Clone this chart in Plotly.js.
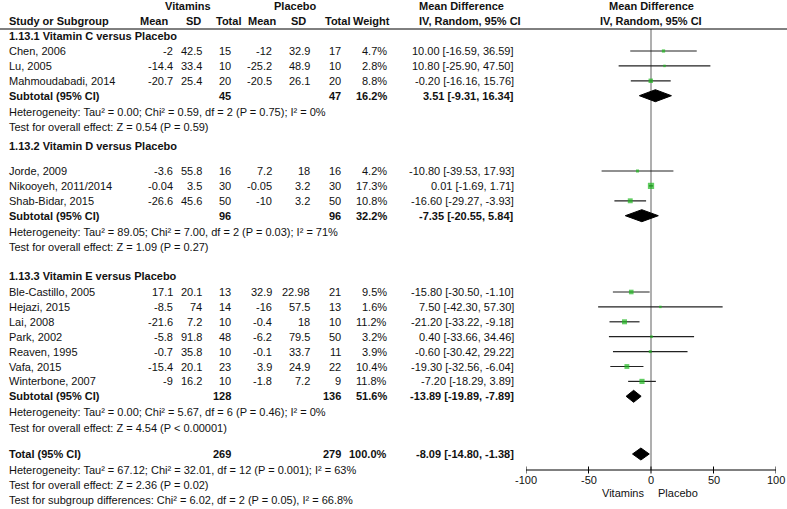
<!DOCTYPE html>
<html><head><meta charset="utf-8">
<script src="https://cdn.plot.ly/plotly-3.0.1.min.js"></script>
<style>html,body{margin:0;padding:0;background:#fff}#chart{width:787px;height:509px}</style>
</head><body><div id="chart"></div>
<script>
// ---------------- data ----------------
const groupTitles = ["1.13.1 Vitamin C versus Placebo", "1.13.2 Vitamin D versus Placebo", "1.13.3 Vitamin E versus Placebo"];
const studyGroup = [0, 0, 0, 1, 1, 1, 2, 2, 2, 2, 2, 2, 2];
const studies = ["Chen, 2006", "Lu, 2005", "Mahmoudabadi, 2014",
  "Jorde, 2009", "Nikooyeh, 2011/2014", "Shab-Bidar, 2015",
  "Ble-Castillo, 2005", "Hejazi, 2015", "Lai, 2008", "Park, 2002", "Reaven, 1995", "Vafa, 2015", "Winterbone, 2007"];
const vitMean = [-2, -14.4, -20.7, -3.6, -0.04, -26.6, 17.1, -8.5, -21.6, -5.8, -0.7, -15.4, -9];
const vitSD = [42.5, 33.4, 25.4, 55.8, 3.5, 45.6, 20.1, 74, 7.2, 91.8, 35.8, 20.1, 16.2];
const vitN = [15, 10, 20, 16, 30, 50, 13, 14, 10, 48, 10, 23, 10];
const plMean = [-12, -25.2, -20.5, 7.2, -0.05, -10, 32.9, -16, -0.4, -6.2, -0.1, 3.9, -1.8];
const plSD = [32.9, 48.9, 26.1, 18, 3.2, 3.2, 22.98, 57.5, 18, 79.5, 33.7, 24.9, 7.2];
const plN = [17, 10, 20, 16, 30, 50, 21, 13, 10, 50, 11, 22, 9];
const weight = [4.7, 2.8, 8.8, 4.2, 17.3, 10.8, 9.5, 1.6, 11.2, 3.2, 3.9, 10.4, 11.8];
const md = [10.00, 10.80, -0.20, -10.80, 0.01, -16.60, -15.80, 7.50, -21.20, 0.40, -0.60, -19.30, -7.20];
const ciLo = [-16.59, -25.90, -16.16, -39.53, -1.69, -29.27, -30.50, -42.30, -33.22, -33.66, -30.42, -32.56, -18.29];
const ciHi = [36.59, 47.50, 15.76, 17.93, 1.71, -3.93, -1.10, 57.30, -9.18, 34.46, 29.22, -6.04, 3.89];

const subVitN = [45, 96, 128];
const subPlN = [47, 96, 136];
const subWeight = [16.2, 32.2, 51.6];
const subMd = [3.51, -7.35, -13.89];
const subLo = [-9.31, -20.55, -19.89];
const subHi = [16.34, 5.84, -7.89];
const subHet = [
  "Heterogeneity: Tau\u00b2 = 0.00; Chi\u00b2 = 0.59, df = 2 (P = 0.75); I\u00b2 = 0%",
  "Heterogeneity: Tau\u00b2 = 89.05; Chi\u00b2 = 7.00, df = 2 (P = 0.03); I\u00b2 = 71%",
  "Heterogeneity: Tau\u00b2 = 0.00; Chi\u00b2 = 5.67, df = 6 (P = 0.46); I\u00b2 = 0%"];
const subTest = [
  "Test for overall effect: Z = 0.54 (P = 0.59)",
  "Test for overall effect: Z = 1.09 (P = 0.27)",
  "Test for overall effect: Z = 4.54 (P < 0.00001)"];

const totalVitN = 269, totalPlN = 279, totalWeight = 100.0;
const totalMd = -8.09, totalLo = -14.80, totalHi = -1.38;
const totalNotes = [
  "Heterogeneity: Tau\u00b2 = 67.12; Chi\u00b2 = 32.01, df = 12 (P = 0.001); I\u00b2 = 63%",
  "Test for overall effect: Z = 2.36 (P = 0.02)",
  "Test for subgroup differences: Chi\u00b2 = 6.02, df = 2 (P = 0.05), I\u00b2 = 66.8%"];

const tickVals = [-100, -50, 0, 50, 100];
const tickLabels = ["-100", "-50", "0", "50", "100"];
const favoursLeft = "Vitamins", favoursRight = "Placebo";

// ---------------- layout constants ----------------
const W = 787, H = 509;
const FONT = "Liberation Sans, Arial, sans-serif";
const FS = 11;
const TXT = "#111";
const titleY = [36, 146, 276];
const firstGap = [15, 25, 16];
const STEP = 14.9;
const col = {name: 7, vitMean: 175, vitSD: 204, vitN: 233, plMean: 274, plSD: 312, plN: 343, weight: 389, md: 516};
const headerLineY = 29, axisY = 470;

// compute row positions
const studyY = [], subY = [], hetY = [], testY = [];
for (let g = 0; g < 3; g++) {
  let y = titleY[g] + firstGap[g];
  studies.forEach((s, i) => { if (studyGroup[i] === g) { studyY[i] = y; y += STEP; } });
  subY[g] = y; hetY[g] = y + 16; testY[g] = y + 31.5;
}
const totalY = 454;
const totalNoteY = [470, 485, 500];

// ---------------- annotations ----------------
const ann = [];
function A(text, xpx, y, anchor, bold) {
  ann.push({text: bold ? "<b>" + text + "</b>" : text, xref: "paper", yref: "y", x: xpx / W, y: y,
    xanchor: anchor, yanchor: "middle", showarrow: false, font: {family: FONT, size: FS, color: TXT}});
}
const fmtMD = (m, l, h) => m.toFixed(2) + " [" + l.toFixed(2) + ", " + h.toFixed(2) + "]";

// header
A("Vitamins", 188, 6, "center", true);
A("Placebo", 295, 6, "center", true);
A("Study or Subgroup", col.name, 21, "left", true);
A("Mean", 170, 21, "right", true);
A("SD", 203, 21, "right", true);
A("Total", 243, 21, "right", true);
A("Mean", 278, 21, "right", true);
A("SD", 308, 21, "right", true);
A("Total", 352, 21, "right", true);
A("Weight", 392, 21, "right", true);
A("Mean Difference", 417, 6, "left", true);
A("IV, Random, 95% CI", 417, 21, "left", true);

for (let g = 0; g < 3; g++) {
  A(groupTitles[g], col.name, titleY[g], "left", true);
  A("Subtotal (95% CI)", col.name, subY[g], "left", true);
  A(String(subVitN[g]), col.vitN, subY[g], "right", true);
  A(String(subPlN[g]), col.plN, subY[g], "right", true);
  A(subWeight[g].toFixed(1) + "%", col.weight, subY[g], "right", true);
  A(fmtMD(subMd[g], subLo[g], subHi[g]), col.md, subY[g], "right", true);
  A(subHet[g], col.name, hetY[g], "left", false);
  A(subTest[g], col.name, testY[g], "left", false);
}
studies.forEach((s, i) => {
  const y = studyY[i];
  A(s, col.name, y, "left", false);
  A(String(vitMean[i]), col.vitMean, y, "right", false);
  A(String(vitSD[i]), col.vitSD, y, "right", false);
  A(String(vitN[i]), col.vitN, y, "right", false);
  A(String(plMean[i]), col.plMean, y, "right", false);
  A(String(plSD[i]), col.plSD, y, "right", false);
  A(String(plN[i]), col.plN, y, "right", false);
  A(weight[i].toFixed(1) + "%", col.weight, y, "right", false);
  A(fmtMD(md[i], ciLo[i], ciHi[i]), col.md, y, "right", false);
});
A("Total (95% CI)", col.name, totalY, "left", true);
A(String(totalVitN), col.vitN, totalY, "right", true);
A(String(totalPlN), col.plN, totalY, "right", true);
A(totalWeight.toFixed(1) + "%", col.weight, totalY, "right", true);
A(fmtMD(totalMd, totalLo, totalHi), col.md, totalY, "right", true);
totalNotes.forEach((t, k) => A(t, col.name, totalNoteY[k], "left", false));

// forest header & favours labels (data-axis x)
function AX(text, x, y, anchor, bold) {
  ann.push({text: bold ? "<b>" + text + "</b>" : text, xref: "x", yref: "y", x: x, y: y,
    xanchor: anchor, yanchor: "middle", showarrow: false, font: {family: FONT, size: FS, color: TXT}});
}
AX("Mean Difference", 0, 6, "center", true);
AX("IV, Random, 95% CI", 0, 21, "center", true);
AX(favoursLeft, -4, 493, "right", false);
AX(favoursRight, 4, 493, "left", false);
tickVals.forEach((t, k) => AX(tickLabels[k], t, 480, "center", false));

// ---------------- traces ----------------
const ciX = [], ciY = [];
studies.forEach((s, i) => { ciX.push(ciLo[i], ciHi[i], null); ciY.push(studyY[i], studyY[i], null); });
const traces = [];
traces.push({type: "scatter", mode: "lines", x: ciX, y: ciY, line: {color: "#222", width: 1.2}, hoverinfo: "skip"});
traces.push({type: "scatter", mode: "markers", x: md, y: studyY,
  marker: {symbol: "square", color: "#1fb81f", size: weight.map(w => Math.max(2.5, 1.5 * Math.sqrt(w))), line: {width: 0}},
  hoverinfo: "skip"});
const DH = 6;
function diamond(m, l, h, y) {
  traces.push({type: "scatter", mode: "lines", x: [l, m, h, m, l], y: [y, y - DH, y, y + DH, y],
    fill: "toself", fillcolor: "#000", line: {color: "#000", width: 1}, hoverinfo: "skip"});
}
for (let g = 0; g < 3; g++) diamond(subMd[g], subLo[g], subHi[g], subY[g]);
diamond(totalMd, totalLo, totalHi, totalY);
// tick marks crossing the axis line
const tkX = [], tkY = [];
tickVals.forEach(t => { tkX.push(t, t, null); tkY.push(axisY - 3.5, axisY + 3.5, null); });
traces.push({type: "scatter", mode: "lines", x: tkX, y: tkY, line: {color: "#000", width: 1}, hoverinfo: "skip"});
// axis line
traces.push({type: "scatter", mode: "lines", x: [tickVals[0], tickVals[tickVals.length - 1]], y: [axisY, axisY],
  line: {color: "#000", width: 1}, hoverinfo: "skip"});

const layout = {
  width: W, height: H, margin: {l: 0, r: 0, t: 0, b: 0},
  paper_bgcolor: "#fff", plot_bgcolor: "#fff", showlegend: false,
  xaxis: {domain: [526 / W, 776 / W], range: [-100, 100], visible: false, fixedrange: true},
  yaxis: {domain: [0, 1], range: [H, 0], visible: false, fixedrange: true},
  shapes: [
    {type: "line", xref: "paper", yref: "y", x0: 0, x1: 1, y0: headerLineY, y1: headerLineY, line: {color: "#000", width: 1}},
    {type: "line", xref: "x", yref: "y", x0: 0, x1: 0, y0: headerLineY, y1: axisY, line: {color: "#7a7a7a", width: 1.2}, layer: "below"}
  ],
  annotations: ann
};
Plotly.newPlot("chart", traces, layout, {staticPlot: true, displayModeBar: false});
</script></body></html>
